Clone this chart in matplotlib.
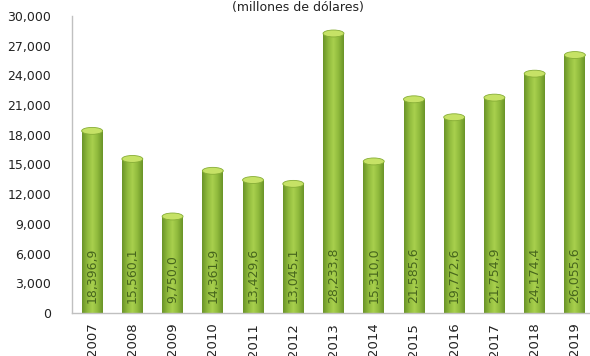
import numpy as np
import matplotlib.pyplot as plt
from matplotlib.colors import LinearSegmentedColormap
from matplotlib.patches import Ellipse

years = ['2007', '2008', '2009', '2010', '2011', '2012', '2013',
         '2014', '2015', '2016', '2017', '2018', '2019']
values = [18396.9, 15560.1, 9750.0, 14361.9, 13429.6, 13045.1, 28233.8,
          15310.0, 21585.6, 19772.6, 21754.9, 24174.4, 26055.6]
yticks = [0, 3000, 6000, 9000, 12000, 15000, 18000, 21000, 24000, 27000, 30000]

plt.rcParams['font.family'] = ['DejaVu Sans']

fig = plt.figure(figsize=(5.9, 3.56), dpi=100)
ax = fig.add_axes([72/590, 43/356, 523/590, 297/356])

# cylinder look: dark edges, light centre
cyl = LinearSegmentedColormap.from_list('cyl', ['#6a9428', '#8fb93c', '#a9d04e', '#8fb93c', '#6a9428'])
grad = np.linspace(0, 1, 64).reshape(1, -1)

w = 0.52
x = np.arange(len(years))
for i, v in enumerate(values):
    ax.imshow(grad, cmap=cyl, extent=[i - w/2, i + w/2, 0, v],
              aspect='auto', origin='lower', zorder=2, interpolation='bilinear')
    ax.add_patch(Ellipse((i, v), w, 700, facecolor='#c6e266',
                         edgecolor='#86ad36', lw=0.6, zorder=3))
    lab = f'{v:,.1f}'.replace('.', ',')
    ax.text(i, 1000, lab, rotation=90, ha='center', va='bottom',
            fontsize=9, color='#46651d', zorder=4)

ax.set_xlim(-0.5, len(years) - 0.5)
ax.set_ylim(0, 30000)
ax.set_xticks(x)
ax.set_xticklabels(years, rotation=90, fontsize=9.5, color='#222222')
ax.set_yticks(yticks)
ax.set_yticklabels([f'{t:,}' for t in yticks], fontsize=9, color='#222222')
ax.tick_params(length=0, pad=7)
ax.tick_params(axis='y', pad=15)

for s in ['top', 'right']:
    ax.spines[s].set_visible(False)
for s in ['left', 'bottom']:
    ax.spines[s].set_color('#c0c0c0')
    ax.spines[s].set_linewidth(1)

fig.text(298/590, 1 - 1/356, '(millones de dólares)', ha='center', va='top',
         fontsize=9, color='#222222')

fig.savefig('out.png', dpi=100)
